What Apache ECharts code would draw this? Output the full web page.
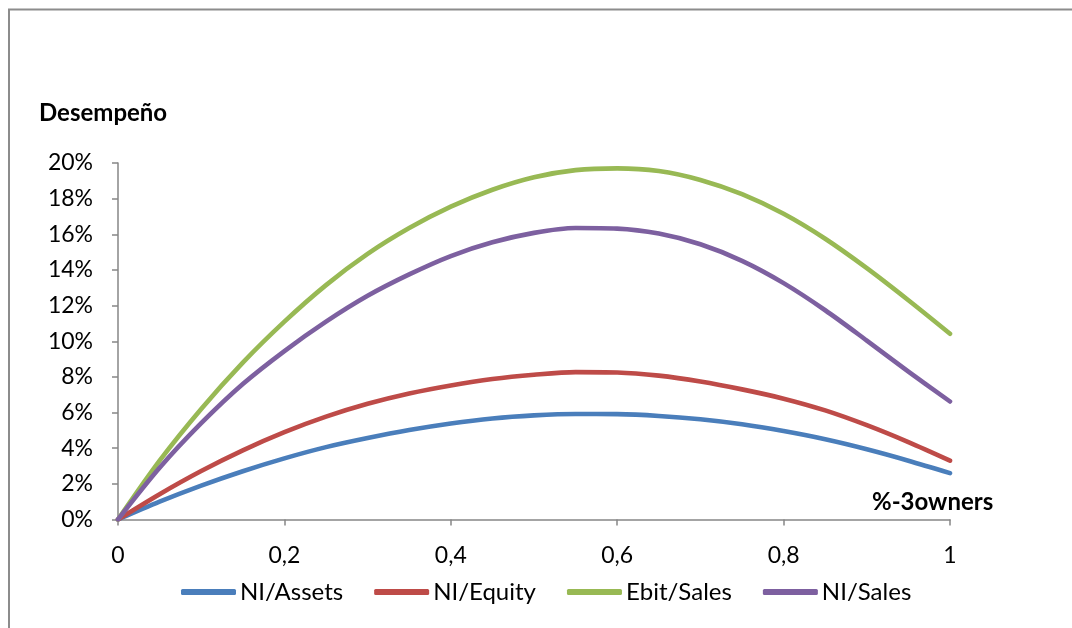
<!DOCTYPE html>
<html>
<head>
<meta charset="utf-8">
<script src="https://cdn.jsdelivr.net/npm/echarts@6/dist/echarts.min.js"></script>
<style>
html,body{margin:0;padding:0;background:#fff;}
#c{width:1072px;height:628px;}
</style>
</head>
<body>
<div id="c"></div>
<script>
// x positions (share of 3 owners)
var xValues = [0, 0.05, 0.1, 0.15, 0.2, 0.25, 0.3, 0.35, 0.4, 0.45, 0.5, 0.55, 0.6, 0.65, 0.7, 0.75, 0.8, 0.85, 0.9, 0.95, 1];
// series values (%)
var niAssets  = [0, 1.0, 1.9, 2.71, 3.43, 4.06, 4.57, 5.02, 5.39, 5.67, 5.84, 5.92, 5.91, 5.81, 5.62, 5.34, 4.96, 4.5, 3.94, 3.3, 2.6];
var niEquity  = [0, 1.42, 2.72, 3.88, 4.9, 5.77, 6.49, 7.07, 7.52, 7.88, 8.12, 8.27, 8.25, 8.07, 7.74, 7.30, 6.78, 6.12, 5.29, 4.34, 3.30];
var ebitSales = [0, 3.3, 6.2, 8.8, 11.1, 13.15, 14.9, 16.35, 17.55, 18.5, 19.2, 19.6, 19.7, 19.55, 19.05, 18.25, 17.15, 15.75, 14.1, 12.3, 10.42];
var niSales   = [0, 2.9, 5.4, 7.6, 9.45, 11.1, 12.55, 13.75, 14.78, 15.55, 16.08, 16.35, 16.32, 16.04, 15.44, 14.51, 13.26, 11.74, 10.04, 8.3, 6.62];
var seriesNames = ['NI/Assets', 'NI/Equity', 'Ebit/Sales', 'NI/Sales'];
var seriesColors = ['#4A7EBB', '#BE4B48', '#98B954', '#7D60A0'];
var yAxisTitle = 'Desempeño';
var xAxisTitle = '%-3owners';

function pairs(arr){ return xValues.map(function(x,i){ return [x, arr[i]]; }); }
var allData = [niAssets, niEquity, ebitSales, niSales];

var font = 'Lato, "Liberation Sans", sans-serif';
var chart = echarts.init(document.getElementById('c'), null, {renderer:'canvas'});
chart.setOption({
  animation:false,
  backgroundColor:'#fff',
  textStyle:{fontFamily:font},
  grid:{left:118, right:122, top:163, bottom:108.5, containLabel:false},
  xAxis:{
    type:'value', min:0, max:1, interval:0.2,
    axisLine:{show:true, lineStyle:{color:'#868686', width:1.5}},
    axisTick:{show:true, length:6, lineStyle:{color:'#868686', width:1.5}},
    splitLine:{show:false},
    axisLabel:{margin:25, fontSize:23, color:'#000', fontFamily:font,
      formatter:function(v){ return String(+v.toFixed(1)).replace('.', ','); }}
  },
  yAxis:{
    type:'value', min:0, max:20, interval:2,
    axisLine:{show:true, lineStyle:{color:'#868686', width:1.5}},
    axisTick:{show:true, length:6, lineStyle:{color:'#868686', width:1.5}},
    splitLine:{show:false},
    axisLabel:{margin:25, fontSize:23, color:'#000', fontFamily:font,
      formatter:function(v){ return v + '%'; }}
  },
  legend:{
    left:176, top:575,
    itemWidth:55, itemHeight:6, itemGap:31,
    icon:'roundRect',
    textStyle:{fontSize:24, color:'#000', fontFamily:font, padding:[0,0,0,-1]},
    data:seriesNames
  },
  graphic:[
    {type:'rect', shape:{x:9, y:9.5, width:1200, height:800}, style:{fill:'none', stroke:'#8c8c8c', lineWidth:2}, silent:true},
    {type:'text', left:39, top:101, style:{text:yAxisTitle, font:'bold 24px ' + font, fill:'#000'}},
    {type:'text', left:872, top:490, style:{text:xAxisTitle, font:'bold 24px ' + font, fill:'#000'}}
  ],
  series:allData.map(function(arr,i){
    return {
      name:seriesNames[i], type:'line', data:pairs(arr), smooth:0.3,
      showSymbol:false, symbol:'none',
      lineStyle:{width:4.6, color:seriesColors[i], cap:'round', join:'round'},
      itemStyle:{color:seriesColors[i]}
    };
  })
});
</script>
</body>
</html>
